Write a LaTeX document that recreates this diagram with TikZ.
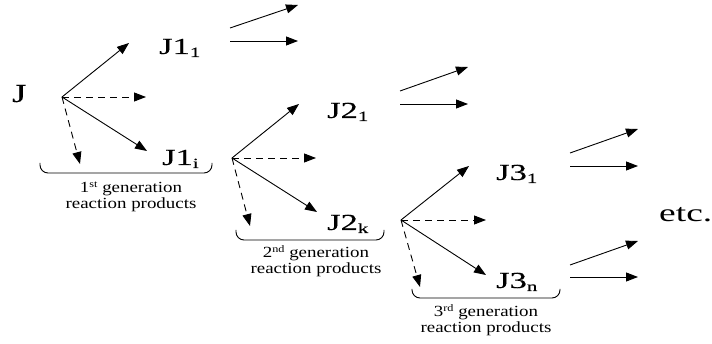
\documentclass[tikz,border=0pt]{standalone}
\usepackage{fontspec}
\setmainfont{Liberation Serif}
\newfontfamily\prodfont[FakeBold=0.3]{Liberation Serif}
\usepackage{graphicx}
\usetikzlibrary{arrows.meta}

% product name with a subscript, set wide
\newcommand\prodlabel[2]{\scalebox{1.5}[1]{\prodfont\fontsize{23}{23}\selectfont #1\raisebox{-3pt}{\fontsize{14}{14}\selectfont #2}}}
% two-line caption under each generation
\newcommand\genlabel[2]{\scalebox{1.22}[1]{\fontsize{15.5}{16}\selectfont\setlength\tabcolsep{0pt}\begin{tabular}[t]{c}#1\raisebox{5pt}{\fontsize{10}{10}\selectfont #2} generation\\reaction products\end{tabular}}}

\tikzset{
  lbl/.style={inner sep=0pt, anchor=base west},
  gen/.style={inner sep=0pt, anchor=base},
  link/.style={line width=0.9pt, -{Triangle[length=12pt,width=9pt]}},
  minor/.style={link, dash pattern=on 7pt off 5pt},
  brace/.style={line width=0.9pt, rounded corners=8pt},
}

\begin{document}
\begin{tikzpicture}[x=1pt,y=-1pt]
\useasboundingbox (0,0) rectangle (712,344);

% branching points of the three generations
\coordinate (o1) at (62,97);
\coordinate (o2) at (232,158);
\coordinate (o3) at (401,220);

% arrow ends of each branching
\coordinate (u1) at (129,43);  \coordinate (r1) at (146,97);
\coordinate (s1) at (147,151); \coordinate (d1) at (80,164);
\coordinate (u2) at (299,104); \coordinate (r2) at (316,158);
\coordinate (s2) at (317,212); \coordinate (d2) at (250,226);
\coordinate (u3) at (469,166); \coordinate (r3) at (486,220);
\coordinate (s3) at (486,275); \coordinate (d3) at (420,287);

% species
\node[lbl] (J)   at (12,102) {\scalebox{1.4}[1]{\prodfont\fontsize{26}{26}\selectfont J}};
\node[lbl] (J11) at (159,54)  {\prodlabel{J1}{1}};
\node[lbl] (J1i) at (162,165) {\prodlabel{J1}{i}};
\node[lbl] (J21) at (327,118) {\prodlabel{J2}{1}};
\node[lbl] (J2k) at (327,230) {\prodlabel{J2}{k}};
\node[lbl] (J31) at (496,180) {\prodlabel{J3}{1}};
\node[lbl] (J3n) at (496,288) {\prodlabel{J3}{n}};
\node[lbl] (etc) at (659,222) {\scalebox{1.5}[1]{\fontsize{25}{25}\selectfont etc.}};

% branchings
\foreach \g in {1,2,3}{
  \draw[link]  (o\g) -- (u\g);
  \draw[link]  (o\g) -- (s\g);
  \draw[minor] (o\g) -- (r\g);
  \draw[minor] (o\g) -- (d\g);
}

% further reactions leaving the products
\coordinate (a1) at (230,28);  \coordinate (b1) at (298,5);
\coordinate (a2) at (230,41);  \coordinate (b2) at (298,41);
\coordinate (a3) at (400,91);  \coordinate (b3) at (468,67);
\coordinate (a4) at (400,104); \coordinate (b4) at (468,104);
\coordinate (a5) at (570,153); \coordinate (b5) at (638,129);
\coordinate (a6) at (570,166); \coordinate (b6) at (638,166);
\coordinate (a7) at (570,265); \coordinate (b7) at (638,241);
\coordinate (a8) at (570,277); \coordinate (b8) at (638,277);
\foreach \k in {1,...,8}{ \draw[link] (a\k) -- (b\k); }

% brackets grouping each generation
\draw[brace] (40,163) -- (40,173) -- (212,173) -- (212,163);
\draw[brace] (236,230) -- (236,240) -- (384,240) -- (384,230);
\draw[brace] (412,289) -- (412,298) -- (560,298) -- (560,289);

% captions
\node[gen] (g1) at (131,193) {\genlabel{1}{st}};
\node[gen] (g2) at (316,258) {\genlabel{2}{nd}};
\node[gen] (g3) at (486,317) {\genlabel{3}{rd}};
\end{tikzpicture}
\end{document}
